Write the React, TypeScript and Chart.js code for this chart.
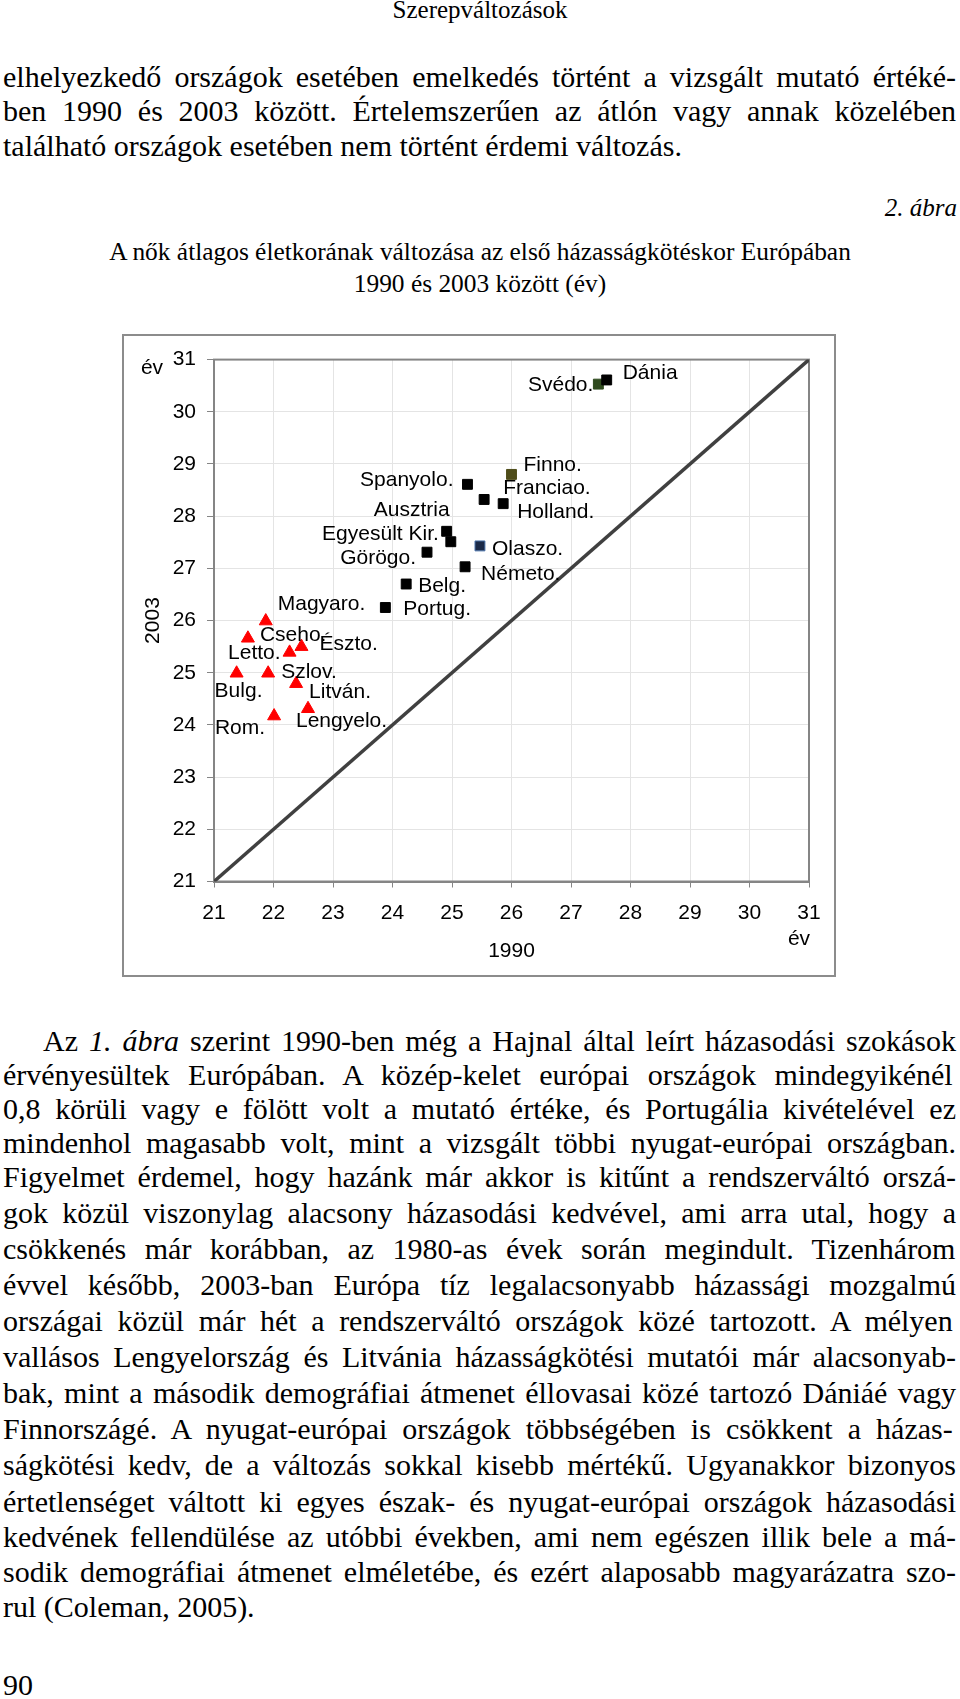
import React, { useEffect, useRef } from 'react';
import { Chart, registerables } from 'chart.js';

Chart.register(...registerables);

// ---------- DATA ----------
const eastCountries = ['Magyaro.', 'Cseho.', 'Észto.', 'Letto.', 'Bulg.', 'Szlov.', 'Litván.', 'Lengyelo.', 'Rom.'];
const east1990 = [21.87, 21.57, 22.47, 22.27, 21.38, 21.91, 22.38, 22.58, 22.01];
const east2003 = [25.99, 25.66, 25.5, 25.39, 24.99, 24.99, 24.79, 24.31, 24.17];

const westCountries = ['Svédo.', 'Dánia', 'Finno.', 'Spanyolo.', 'Franciao.', 'Holland.', 'Ausztria', 'Egyesült Kir.', 'Olaszo.', 'Görögo.', 'Németo.', 'Belg.', 'Portug.'];
const west1990 = [27.46, 27.6, 26.0, 25.26, 25.54, 25.86, 24.91, 24.98, 25.47, 24.58, 25.22, 24.23, 23.88];
const west2003 = [30.53, 30.61, 28.8, 28.61, 28.32, 28.24, 27.71, 27.51, 27.43, 27.31, 27.03, 26.7, 26.25];

const axisTicks = [21, 22, 23, 24, 25, 26, 27, 28, 29, 30, 31];
const diagonal = [21, 31];

// ---------- STYLE / LABEL PLACEMENT ----------
const westFill: Record<string, string> = { 'Svédo.': '#2f4a1e', 'Finno.': '#4f4d1a', 'Olaszo.': '#1b2a48' };
const westBorder: Record<string, string> = { 'Svédo.': '#2f4a1e', 'Finno.': '#4f4d1a', 'Olaszo.': '#4a72aa' };

const labelPlacement: Record<string, [CanvasTextAlign, number, number]> = {
  'Svédo.': ['right', -5, 1],
  'Dánia': ['left', 16, -7],
  'Finno.': ['left', 12, -9],
  'Spanyolo.': ['right', -14, -4],
  'Franciao.': ['left', 19, -11],
  'Holland.': ['left', 14, 9],
  'Ausztria': ['right', 3, -21],
  'Egyesült Kir.': ['right', -12, -8],
  'Olaszo.': ['left', 12, 3],
  'Görögo.': ['right', -11, 6],
  'Németo.': ['left', 16, 7],
  'Belg.': ['left', 12, 2],
  'Portug.': ['left', 18, 2],
  'Magyaro.': ['left', 12, -17],
  'Cseho.': ['left', 12, -3],
  'Észto.': ['left', 18, -2],
  'Letto.': ['right', -9, 1],
  'Bulg.': ['left', -22, 18],
  'Szlov.': ['left', 13, -1],
  'Litván.': ['left', 13, 9],
  'Lengyelo.': ['left', -12, 12],
  'Rom.': ['right', -9, 12],
};

const SANS = '"Liberation Sans", Arial, sans-serif';
const SERIF = '"Liberation Serif", "Times New Roman", serif';
const CH_FONT = 21;

const decorPlugin = {
  id: 'decor',
  beforeDatasetsDraw(chart: any) {
    const { ctx, chartArea: a } = chart;
    ctx.save();
    ctx.strokeStyle = '#858585';
    ctx.lineWidth = 2;
    ctx.strokeRect(a.left, a.top, a.right - a.left, a.bottom - a.top);
    ctx.restore();
  },
  afterDatasetsDraw(chart: any) {
    const { ctx, chartArea: a } = chart;
    ctx.save();
    ctx.fillStyle = '#000';
    ctx.font = `${CH_FONT}px ${SANS}`;
    ctx.textBaseline = 'middle';
    const groups: [number, string[]][] = [[0, eastCountries], [1, westCountries]];
    groups.forEach(([di, names]) => {
      const meta = chart.getDatasetMeta(di);
      meta.data.forEach((pt: any, i: number) => {
        const name = names[i];
        const pl = labelPlacement[name] || ['left', 10, 0];
        ctx.textAlign = pl[0];
        ctx.fillText(name, pt.x + pl[1], pt.y + pl[2]);
      });
    });
    // axis titles
    ctx.textAlign = 'center';
    ctx.fillText('év', a.left - 62, a.top + 9);
    ctx.fillText('1990', (a.left + a.right) / 2, a.bottom + 70);
    ctx.fillText('év', a.right - 10, a.bottom + 58);
    ctx.save();
    ctx.translate(a.left - 61, (a.top + a.bottom) / 2);
    ctx.rotate(-Math.PI / 2);
    ctx.fillText('2003', 0, 0);
    ctx.restore();
    ctx.restore();
  },
};

function ChartBox() {
  const ref = useRef<HTMLCanvasElement | null>(null);
  useEffect(() => {
    if (!ref.current) return;
    const tickSet = (s: any) => {
      s.ticks = axisTicks.map((v) => ({ value: v }));
    };
    const chart = new Chart(ref.current, {
      type: 'scatter',
      data: {
        datasets: [
          {
            label: 'Kelet',
            data: eastCountries.map((_, i) => ({ x: east1990[i], y: east2003[i] })),
            pointStyle: 'triangle',
            pointRadius: 7.5,
            pointBorderWidth: 1,
            backgroundColor: '#ff0000',
            borderColor: '#ff0000',
          },
          {
            label: 'Nyugat',
            data: westCountries.map((_, i) => ({ x: west1990[i], y: west2003[i] })),
            pointStyle: 'rect',
            pointRadius: 7,
            pointBorderWidth: 1,
            pointBackgroundColor: westCountries.map((c) => westFill[c] || '#000000'),
            pointBorderColor: westCountries.map((c) => westBorder[c] || '#000000'),
          },
          {
            label: 'átló',
            type: 'line',
            data: diagonal.map((v) => ({ x: v, y: v })),
            borderColor: '#404040',
            borderWidth: 3.5,
            pointRadius: 0,
            showLine: true,
          } as any,
        ],
      },
      options: {
        responsive: false,
        maintainAspectRatio: false,
        animation: false,
        layout: { padding: { left: 0, right: 25, top: 22, bottom: 0 } },
        plugins: { legend: { display: false }, tooltip: { enabled: false } },
        scales: {
          x: {
            type: 'linear',
            min: 21,
            max: 31,
            afterBuildTicks: tickSet,
            afterFit: (s: any) => {
              s.height = 93.5;
            },
            grid: { color: '#e4e4e4', lineWidth: 1, tickLength: 6, tickColor: '#858585' },
            border: { color: '#858585', width: 2 },
            ticks: { font: { family: SANS, size: CH_FONT }, color: '#000', padding: 13, maxRotation: 0, autoSkip: false },
          },
          y: {
            type: 'linear',
            min: 21,
            max: 31,
            afterBuildTicks: tickSet,
            afterFit: (s: any) => {
              s.width = 90;
            },
            grid: { color: '#e4e4e4', lineWidth: 1, tickLength: 7, tickColor: '#858585' },
            border: { color: '#858585', width: 2 },
            ticks: { font: { family: SANS, size: CH_FONT }, color: '#000', padding: 11, autoSkip: false },
          },
        },
      },
      plugins: [decorPlugin],
    } as any);
    return () => chart.destroy();
  }, []);
  return (
    <div
      style={{
        position: 'absolute',
        left: 122,
        top: 334,
        width: 710,
        height: 639,
        border: '2px solid #8c8c8c',
        background: '#fff',
      }}
    >
      <canvas ref={ref} width={710} height={639} style={{ display: 'block', width: 710, height: 639 }} />
    </div>
  );
}

// ---------- TEXT ----------
type Seg = { t: string; i?: boolean };
let mctx: CanvasRenderingContext2D | null = null;
function measure(text: string, font: string) {
  if (!mctx) mctx = document.createElement('canvas').getContext('2d');
  mctx!.font = font;
  return mctx!.measureText(text).width;
}

function TextLine(props: { segs: Seg[]; baseline: number; left: number; width: number; size: number; justify: boolean }) {
  const { segs, baseline, left, width, size, justify } = props;
  const natural = segs.reduce((s, g) => s + measure(g.t, `${g.i ? 'italic ' : ''}${size}px ${SERIF}`), 0);
  const spaces = segs.reduce((s, g) => s + (g.t.match(/ /g) || []).length, 0);
  let ws = 0;
  let sx = 1;
  if (justify && spaces > 0) {
    ws = (width - natural) / spaces;
    if (ws < -3) {
      ws = -3;
      sx = width / (natural - 3 * spaces);
    }
  }
  return (
    <div
      style={{
        position: 'absolute',
        left,
        top: baseline - 0.8375 * size,
        fontSize: size,
        lineHeight: `${size}px`,
        whiteSpace: 'pre',
        wordSpacing: ws,
        transform: sx !== 1 ? `scaleX(${sx})` : undefined,
        transformOrigin: 'left top',
      }}
    >
      {segs.map((g, k) => (g.i ? <i key={k}>{g.t}</i> : <span key={k}>{g.t}</span>))}
    </div>
  );
}

const BODY = 30;
const para1 = [
  'elhelyezkedő országok esetében emelkedés történt a vizsgált mutató értéké-',
  'ben 1990 és 2003 között. Értelemszerűen az átlón vagy annak közelében',
  'található országok esetében nem történt érdemi változás.',
];
const para1Base = [87, 121, 156];

const para2: Seg[][] = [
  [{ t: 'Az ' }, { t: '1. ábra', i: true }, { t: ' szerint 1990-ben még a Hajnal által leírt házasodási szokások' }],
  [{ t: 'érvényesültek Európában. A közép-kelet európai országok mindegyikénél' }],
  [{ t: '0,8 körüli vagy e fölött volt a mutató értéke, és Portugália kivételével ez' }],
  [{ t: 'mindenhol magasabb volt, mint a vizsgált többi nyugat-európai országban.' }],
  [{ t: 'Figyelmet érdemel, hogy hazánk már akkor is kitűnt a rendszerváltó orszá-' }],
  [{ t: 'gok közül viszonylag alacsony házasodási kedvével, ami arra utal, hogy a' }],
  [{ t: 'csökkenés már korábban, az 1980-as évek során megindult. Tizenhárom' }],
  [{ t: 'évvel később, 2003-ban Európa tíz legalacsonyabb házassági mozgalmú' }],
  [{ t: 'országai közül már hét a rendszerváltó országok közé tartozott. A mélyen' }],
  [{ t: 'vallásos Lengyelország és Litvánia házasságkötési mutatói már alacsonyab-' }],
  [{ t: 'bak, mint a második demográfiai átmenet éllovasai közé tartozó Dániáé vagy' }],
  [{ t: 'Finnországé. A nyugat-európai országok többségében is csökkent a házas-' }],
  [{ t: 'ságkötési kedv, de a változás sokkal kisebb mértékű. Ugyanakkor bizonyos' }],
  [{ t: 'értetlenséget váltott ki egyes észak- és nyugat-európai országok házasodási' }],
  [{ t: 'kedvének fellendülése az utóbbi években, ami nem egészen illik bele a má-' }],
  [{ t: 'sodik demográfiai átmenet elméletébe, és ezért alaposabb magyarázatra szo-' }],
  [{ t: 'rul (Coleman, 2005).' }],
];
const para2Base = [1051, 1085, 1119, 1153, 1187, 1223, 1259, 1295, 1331, 1367, 1403, 1439, 1475, 1512, 1547, 1582, 1617];

const TEXT_LEFT = 3;
const TEXT_RIGHT = 956;

function Centered(props: { text: string; baseline: number; size: number }) {
  const { text, baseline, size } = props;
  return (
    <div
      style={{
        position: 'absolute',
        left: 0,
        width: 960,
        textAlign: 'center',
        top: baseline - 0.8375 * size,
        fontSize: size,
        lineHeight: `${size}px`,
        whiteSpace: 'pre',
      }}
    >
      {text}
    </div>
  );
}

export default function App() {
  return (
    <div
      style={{
        position: 'absolute',
        left: 0,
        top: 0,
        width: 960,
        height: 1699,
        background: '#fff',
        color: '#000',
        fontFamily: SERIF,
        overflow: 'hidden',
      }}
    >
      <Centered text="Szerepváltozások" baseline={18} size={25} />
      {para1.map((t, k) => (
        <TextLine
          key={'p1' + k}
          segs={[{ t }]}
          baseline={para1Base[k]}
          left={TEXT_LEFT}
          width={TEXT_RIGHT - TEXT_LEFT}
          size={BODY}
          justify={k < para1.length - 1}
        />
      ))}
      <div
        style={{
          position: 'absolute',
          right: 3,
          top: 216 - 0.8375 * 25,
          fontSize: 25,
          lineHeight: '25px',
          fontStyle: 'italic',
          whiteSpace: 'pre',
        }}
      >
        2. ábra
      </div>
      <Centered text="A nők átlagos életkorának változása az első házasságkötéskor Európában" baseline={260} size={25.4} />
      <Centered text="1990 és 2003 között (év)" baseline={292} size={25.4} />
      <ChartBox />
      {para2.map((segs, k) => (
        <TextLine
          key={'p2' + k}
          segs={segs}
          baseline={para2Base[k]}
          left={k === 0 ? 43 : TEXT_LEFT}
          width={TEXT_RIGHT - (k === 0 ? 43 : TEXT_LEFT)}
          size={BODY}
          justify={k < para2.length - 1}
        />
      ))}
      <div
        style={{
          position: 'absolute',
          left: 3,
          top: 1695 - 0.8375 * BODY,
          fontSize: BODY,
          lineHeight: `${BODY}px`,
        }}
      >
        90
      </div>
    </div>
  );
}
